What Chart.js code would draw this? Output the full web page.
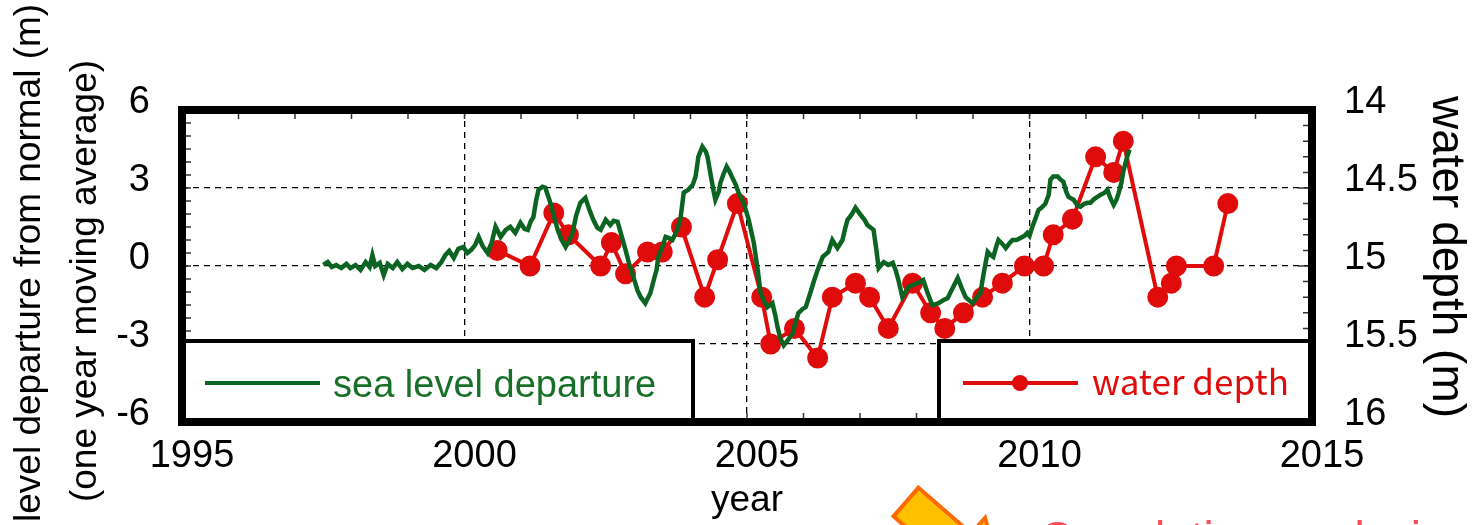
<!DOCTYPE html>
<html>
<head>
<meta charset="utf-8">
<script src="https://cdn.jsdelivr.net/npm/chart.js@4"></script>
<style>
  html, body { margin: 0; padding: 0; background: #fff; }
  #wrap { position: relative; width: 1473px; height: 525px; overflow: hidden; }
</style>
</head>
<body>
<div id="wrap"><canvas id="seaChart" width="1473" height="525"></canvas></div>
<script>
// sea level departure from normal (m), one year moving average
const seaYears = [
  1997.50, 1997.58, 1997.65, 1997.73, 1997.82, 1997.91, 1997.98, 1998.07, 1998.16, 1998.25,
  1998.32, 1998.37, 1998.42, 1998.50, 1998.57, 1998.64, 1998.73, 1998.81, 1998.90, 1998.99,
  1999.08, 1999.19, 1999.29, 1999.40, 1999.50, 1999.59, 1999.66, 1999.73, 1999.81, 1999.89,
  1999.98, 2000.05, 2000.12, 2000.19, 2000.25, 2000.32, 2000.41, 2000.48, 2000.55, 2000.64,
  2000.73, 2000.81, 2000.90, 2000.99, 2001.06, 2001.12, 2001.17, 2001.22, 2001.27, 2001.31,
  2001.38, 2001.43, 2001.52, 2001.59, 2001.65, 2001.72, 2001.79, 2001.86, 2001.91, 2001.98,
  2002.05, 2002.14, 2002.21, 2002.28, 2002.35, 2002.41, 2002.50, 2002.58, 2002.64, 2002.71,
  2002.78, 2002.85, 2002.92, 2002.99, 2003.06, 2003.12, 2003.20, 2003.29, 2003.35, 2003.40,
  2003.43, 2003.50, 2003.56, 2003.61, 2003.68, 2003.75, 2003.82, 2003.88, 2003.96, 2004.04,
  2004.09, 2004.14, 2004.21, 2004.27, 2004.30, 2004.35, 2004.41, 2004.44, 2004.50, 2004.53,
  2004.58, 2004.64, 2004.69, 2004.74, 2004.80, 2004.85, 2004.94, 2005.03, 2005.12, 2005.19,
  2005.24, 2005.31, 2005.36, 2005.45, 2005.50, 2005.54, 2005.59, 2005.65, 2005.72, 2005.81,
  2005.86, 2005.91, 2005.98, 2006.04, 2006.12, 2006.19, 2006.25, 2006.34, 2006.44, 2006.51,
  2006.60, 2006.69, 2006.74, 2006.78, 2006.85, 2006.92, 2007.01, 2007.08, 2007.13, 2007.24,
  2007.29, 2007.33, 2007.42, 2007.50, 2007.58, 2007.63, 2007.68, 2007.75, 2007.86, 2007.93,
  2008.02, 2008.12, 2008.19, 2008.28, 2008.39, 2008.48, 2008.55, 2008.64, 2008.73, 2008.80,
  2008.87, 2008.99, 2009.06, 2009.13, 2009.20, 2009.26, 2009.31, 2009.36, 2009.42, 2009.45,
  2009.52, 2009.58, 2009.65, 2009.70, 2009.77, 2009.84, 2009.91, 2009.96, 2010.00, 2010.05,
  2010.11, 2010.16, 2010.21, 2010.28, 2010.34, 2010.37, 2010.42, 2010.50, 2010.55, 2010.60,
  2010.65, 2010.69, 2010.78, 2010.85, 2010.90, 2010.97, 2011.03, 2011.08, 2011.13, 2011.20,
  2011.26, 2011.33, 2011.38, 2011.43, 2011.49, 2011.54, 2011.58, 2011.63, 2011.66, 2011.70,
  2011.73, 2011.77
];
const seaLevel = [
  0.04, 0.15, -0.04, 0.04, -0.08, 0.08, -0.08, 0.04, -0.15, 0.15,
  -0.04, 0.42, 0.00, 0.12, -0.35, 0.08, -0.08, 0.15, -0.12, 0.08,
  -0.08, 0.00, -0.15, 0.04, -0.08, 0.15, 0.42, 0.58, 0.31, 0.66,
  0.73, 0.50, 0.62, 0.81, 1.12, 0.77, 0.50, 0.89, 1.51, 1.12,
  1.39, 1.51, 1.27, 1.66, 1.43, 1.39, 1.70, 1.89, 2.55, 2.93,
  3.05, 3.01, 2.43, 1.85, 1.39, 1.00, 0.73, 1.00, 1.27, 1.97,
  2.43, 2.62, 2.16, 1.78, 1.47, 1.39, 1.78, 1.58, 1.74, 1.70,
  1.16, 0.62, 0.04, -0.42, -0.93, -1.20, -1.43, -1.04, -0.54, -0.15,
  0.35, 0.73, 1.12, 1.08, 1.00, 1.31, 1.78, 2.82, 2.93, 3.13,
  3.44, 4.21, 4.59, 4.40, 4.21, 3.59, 2.86, 2.55, 2.86, 3.20,
  3.51, 3.82, 3.63, 3.40, 3.13, 2.82, 2.43, 1.78, 0.89, -0.15,
  -1.04, -1.39, -1.58, -1.43, -1.89, -2.35, -2.78, -3.05, -2.86, -2.59,
  -2.16, -1.81, -1.66, -1.58, -1.04, -0.54, -0.15, 0.35, 0.54, 1.00,
  0.69, 1.00, 1.47, 1.78, 1.97, 2.24, 1.97, 1.78, 1.58, 1.39,
  0.62, -0.08, 0.15, 0.04, 0.12, -0.15, -0.54, -1.20, -0.81, -0.73,
  -0.66, -0.54, -1.00, -1.51, -1.43, -1.31, -1.24, -0.85, -0.46, -0.85,
  -1.20, -1.43, -1.24, -1.04, -0.15, 0.54, 0.42, 0.35, 0.81, 1.00,
  0.85, 0.69, 0.89, 1.00, 1.00, 1.08, 1.16, 1.27, 1.16, 1.51,
  1.85, 2.16, 2.24, 2.39, 2.74, 3.32, 3.44, 3.44, 3.32, 3.24,
  2.86, 2.66, 2.55, 2.32, 2.28, 2.39, 2.43, 2.43, 2.55, 2.66,
  2.74, 2.82, 2.93, 2.62, 2.35, 2.55, 2.82, 3.24, 3.63, 3.98,
  4.21, 4.48
];

// measured water depth (m)
const depthYears = [
  2000.58, 2001.16, 2001.58, 2001.84, 2002.41, 2002.60, 2002.85, 2003.24, 2003.50, 2003.84,
  2004.25, 2004.48, 2004.83, 2005.26, 2005.42, 2005.84, 2006.25, 2006.51, 2006.92, 2007.17,
  2007.50, 2007.93, 2008.25, 2008.50, 2008.83, 2009.17, 2009.52, 2009.91, 2010.25, 2010.42,
  2010.76, 2011.17, 2011.49, 2011.66, 2012.27, 2012.51, 2012.60, 2013.26, 2013.51
];
const depthValues = [
  14.90, 15.00, 14.66, 14.80, 15.00, 14.85, 15.05, 14.91, 14.91, 14.75,
  15.20, 14.96, 14.60, 15.20, 15.50, 15.40, 15.59, 15.20, 15.11, 15.20,
  15.40, 15.11, 15.30, 15.40, 15.30, 15.20, 15.11, 15.00, 15.00, 14.80,
  14.70, 14.30, 14.40, 14.20, 15.20, 15.11, 15.00, 15.00, 14.60
];

const yearTicks = [1995, 2000, 2005, 2010, 2015];
const departureTicks = [-6, -3, 0, 3, 6];
const depthTicks = [14, 14.5, 15, 15.5, 16];

const GREEN = '#0b6421';
const RED = '#e00b0b';
const FONT = "'Liberation Sans', Arial, sans-serif";

const toPoints = (xs, ys) => xs.map((x, i) => ({ x: x, y: ys[i] }));
const plainLabel = (v) => String(v);

// dashed grid only on the inner ticks, the frame covers the outer ones
const innerGrid = (first, last) => (c) =>
  (c.tick && (c.tick.value === first || c.tick.value === last)) ? 'rgba(0,0,0,0)' : '#000';

// frame, inward minor ticks and the two legend boxes
const framePlugin = {
  id: 'framePlugin',
  afterDatasetsDraw(chart) {
    const { ctx, chartArea: a, scales } = chart;
    ctx.save();

    ctx.strokeStyle = '#333';
    ctx.lineWidth = 1.5;
    ctx.beginPath();
    for (let yr = 1996; yr < 2015; yr++) {
      const px = scales.x.getPixelForValue(yr);
      ctx.moveTo(px, a.top); ctx.lineTo(px, a.top + 9);
      ctx.moveTo(px, a.bottom); ctx.lineTo(px, a.bottom - 9);
    }
    for (let i = -11; i <= 11; i++) {
      const py = scales.y.getPixelForValue(i * 0.5);
      ctx.moveTo(a.left, py); ctx.lineTo(a.left + 9, py);
    }
    for (let i = 141; i <= 159; i++) {
      const py = scales.y2.getPixelForValue(i / 10);
      const len = (i % 5 === 0) ? 14 : 9;
      ctx.moveTo(a.right, py); ctx.lineTo(a.right - len, py);
    }
    ctx.stroke();

    const sea = chart.data.datasets[0];
    const depth = chart.data.datasets[1];
    const boxTop = a.bottom - 81;

    // left legend box
    ctx.fillStyle = '#fff';
    ctx.fillRect(a.left, boxTop, 511, a.bottom - boxTop);
    ctx.strokeStyle = '#000';
    ctx.lineWidth = 4;
    ctx.strokeRect(a.left, boxTop, 511, a.bottom - boxTop);
    ctx.strokeStyle = sea.borderColor;
    ctx.lineWidth = 4;
    ctx.beginPath();
    ctx.moveTo(a.left + 23, boxTop + 42); ctx.lineTo(a.left + 138, boxTop + 42);
    ctx.stroke();
    ctx.fillStyle = '#187028';
    ctx.font = '38px ' + FONT;
    ctx.textBaseline = 'alphabetic';
    ctx.textAlign = 'left';
    ctx.fillText(sea.label, a.left + 151, boxTop + 56);

    // right legend box
    const rx = a.right - 373;
    ctx.fillStyle = '#fff';
    ctx.fillRect(rx, boxTop, 373, a.bottom - boxTop);
    ctx.strokeStyle = '#000';
    ctx.lineWidth = 4;
    ctx.strokeRect(rx, boxTop, 373, a.bottom - boxTop);
    ctx.strokeStyle = depth.borderColor;
    ctx.beginPath();
    ctx.moveTo(rx + 24, boxTop + 42); ctx.lineTo(rx + 139, boxTop + 42);
    ctx.stroke();
    ctx.fillStyle = depth.pointBackgroundColor;
    ctx.beginPath();
    ctx.arc(rx + 81, boxTop + 42, 8, 0, Math.PI * 2);
    ctx.fill();
    ctx.fillStyle = RED;
    ctx.font = "35px 'Noto Sans CJK JP', sans-serif";
    ctx.fillText(depth.label, rx + 153, boxTop + 54);

    // thick plot frame
    ctx.strokeStyle = '#000';
    ctx.lineWidth = 8;
    ctx.strokeRect(a.left, a.top, a.right - a.left, a.bottom - a.top);
    ctx.restore();
  }
};

// rotated axis titles and the callout below the plot
const labelPlugin = {
  id: 'labelPlugin',
  afterDraw(chart) {
    const { ctx } = chart;
    ctx.save();
    ctx.fillStyle = '#000';
    ctx.font = '37px ' + FONT;
    ctx.textBaseline = 'alphabetic';
    ctx.textAlign = 'left';
    const skip = ctx.measureText('sea ').width;
    ctx.translate(40, 522 + skip);
    ctx.rotate(-Math.PI / 2);
    ctx.fillText('sea level departure from normal (m)', 0, 0);
    ctx.setTransform(1, 0, 0, 1, 0, 0);

    ctx.textAlign = 'center';
    ctx.translate(96, 281);
    ctx.rotate(-Math.PI / 2);
    ctx.fillText('(one year moving average)', 0, 0);
    ctx.setTransform(1, 0, 0, 1, 0, 0);

    ctx.font = '46px ' + FONT;
    ctx.translate(1433, 257);
    ctx.rotate(Math.PI / 2);
    ctx.fillText('water depth (m)', 0, 0);
    ctx.setTransform(1, 0, 0, 1, 0, 0);

    // orange arrow pointing at the note
    ctx.translate(906, 502);
    ctx.rotate(Math.atan2(27, 31));
    ctx.beginPath();
    ctx.moveTo(0, -19); ctx.lineTo(70, -19); ctx.lineTo(70, -40);
    ctx.lineTo(130, 0); ctx.lineTo(70, 40); ctx.lineTo(70, 19);
    ctx.lineTo(0, 19); ctx.closePath();
    ctx.fillStyle = '#ffc000';
    ctx.fill();
    ctx.strokeStyle = '#ff6a00';
    ctx.lineWidth = 4;
    ctx.stroke();
    ctx.setTransform(1, 0, 0, 1, 0, 0);

    ctx.textAlign = 'left';
    ctx.fillStyle = '#ff4b55';
    ctx.font = '46px ' + FONT;
    ctx.fillText('Correlation analysis', 1040, 554);
    ctx.restore();
  }
};

new Chart(document.getElementById('seaChart'), {
  type: 'line',
  data: {
    datasets: [
      {
        label: 'sea level departure',
        data: toPoints(seaYears, seaLevel),
        yAxisID: 'y',
        borderColor: GREEN,
        borderWidth: 4.5,
        pointRadius: 0,
        tension: 0,
        fill: false
      },
      {
        label: 'water depth',
        data: toPoints(depthYears, depthValues),
        yAxisID: 'y2',
        borderColor: RED,
        backgroundColor: RED,
        pointBackgroundColor: RED,
        pointBorderColor: RED,
        borderWidth: 4,
        pointRadius: 8.5,
        tension: 0,
        fill: false
      }
    ]
  },
  options: {
    responsive: false,
    animation: false,
    devicePixelRatio: 1,
    layout: { padding: { top: 110, left: 0, right: 0, bottom: 0 } },
    plugins: { legend: { display: false }, tooltip: { enabled: false } },
    scales: {
      x: {
        type: 'linear',
        min: 1995,
        max: 2015,
        afterBuildTicks: (s) => { s.ticks = yearTicks.map(v => ({ value: v })); },
        afterFit: (s) => { s.height = 103; },
        grid: { color: innerGrid(1995, 2015), lineWidth: 1.3, drawTicks: false },
        border: { display: false, dash: [6, 5] },
        ticks: { color: '#000', font: { family: FONT, size: 38 }, padding: 12, labelOffset: 10, maxRotation: 0, callback: plainLabel },
        title: { display: true, text: 'year', color: '#000', font: { family: FONT, size: 37 }, padding: { top: 0, bottom: 2 } }
      },
      y: {
        position: 'left',
        min: -6,
        max: 6,
        afterBuildTicks: (s) => { s.ticks = departureTicks.map(v => ({ value: v })); },
        afterFit: (s) => { s.width = 182; },
        grid: { color: innerGrid(-6, 6), lineWidth: 1.3, drawTicks: false },
        border: { display: false, dash: [6, 5] },
        ticks: { color: '#000', font: { family: FONT, size: 38 }, padding: 32, labelOffset: -7, callback: plainLabel }
      },
      y2: {
        position: 'right',
        min: 14,
        max: 16,
        reverse: true,
        afterBuildTicks: (s) => { s.ticks = depthTicks.map(v => ({ value: v })); },
        afterFit: (s) => { s.width = 161; },
        grid: { display: false, drawTicks: false },
        border: { display: false },
        ticks: { color: '#000', font: { family: FONT, size: 38 }, padding: 32, labelOffset: -7, callback: plainLabel }
      }
    }
  },
  plugins: [framePlugin, labelPlugin]
});
</script>
</body>
</html>
